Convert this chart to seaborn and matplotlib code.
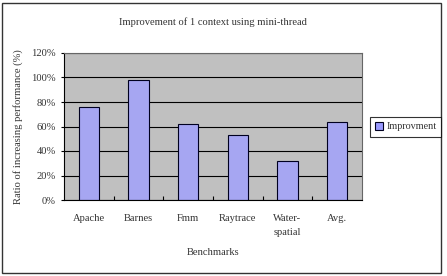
import matplotlib
matplotlib.use("Agg")
import matplotlib.pyplot as plt
import seaborn as sns
import pandas as pd
from matplotlib.patches import Rectangle

categories = ["Apache", "Barnes", "Fmm", "Raytrace", "Water-\nspatial", "Avg."]
values = [76, 98, 62, 53, 32, 64]
series_name = "Improvment"
yticks = [0, 20, 40, 60, 80, 100, 120]

sns.set_theme(style="white")
plt.rcParams['font.family'] = ['Liberation Serif', 'DejaVu Serif']

FS = 7.6
TC = "#333333"

df = pd.DataFrame({"Benchmark": categories, "Value": values, "Series": series_name})

fig = plt.figure(figsize=(4.47, 2.76), dpi=100)
ax = fig.add_axes([64/447, 1-200/276, (362-64)/447, (200-53)/276])
ax.set_facecolor("#C0C0C0")
ax.set_axisbelow(True)
ax.yaxis.grid(True, color="black", linewidth=0.8)

sns.barplot(data=df, x="Benchmark", y="Value", hue="Series", ax=ax,
            palette=["#9999FF"], width=0.41,
            edgecolor="#000020", linewidth=0.8, legend=False)

ax.set_ylim(0, 120)
ax.set_xlim(-0.5, len(categories) - 0.5)
ax.set_yticks(yticks)
ax.set_yticklabels([f"{v}%" for v in yticks], fontsize=FS, color=TC)
ax.set_xticks(range(len(categories)))
ax.set_xticklabels(categories, fontsize=FS, color=TC, linespacing=1.7)
ax.tick_params(axis="x", length=0, pad=10)
ax.tick_params(axis="y", length=2, width=0.8, pad=4, direction="out", color="black", left=True)
ax.set_xticks([i + 0.5 for i in range(len(categories) - 1)], minor=True)
ax.tick_params(axis="x", which="minor", length=3, width=0.8, direction="in", bottom=True, color="black")
for s in ax.spines.values():
    s.set_color("#666666")
    s.set_linewidth(0.8)
ax.spines["bottom"].set_color("black")
ax.spines["left"].set_color("black")

ax.set_xlabel("Benchmarks", fontsize=FS, color=TC, labelpad=8)
ax.set_ylabel("Ratio of increasing performance (%)", fontsize=FS, color=TC, labelpad=6)
ax.set_title("Improvement of 1 context using mini-thread", fontsize=FS, color=TC, pad=20)

handle = Rectangle((0, 0), 1, 1, facecolor="#9999FF", edgecolor="#000020", linewidth=0.8)
leg = fig.legend([handle], [series_name], loc="upper left",
                 bbox_to_anchor=(370/447, 1-117/276), fontsize=7.3,
                 frameon=True, fancybox=False, edgecolor="black",
                 handlelength=0.8, handleheight=0.8, handletextpad=0.3,
                 borderpad=0.5, borderaxespad=0)
leg.get_frame().set_linewidth(0.8)
for t in leg.get_texts():
    t.set_color(TC)

border = Rectangle((2/447, 3/276), 439/447, 270/276, transform=fig.transFigure,
                   fill=False, edgecolor="#333333", linewidth=1.0)
fig.patches.append(border)

fig.savefig("out.png", dpi=100)
